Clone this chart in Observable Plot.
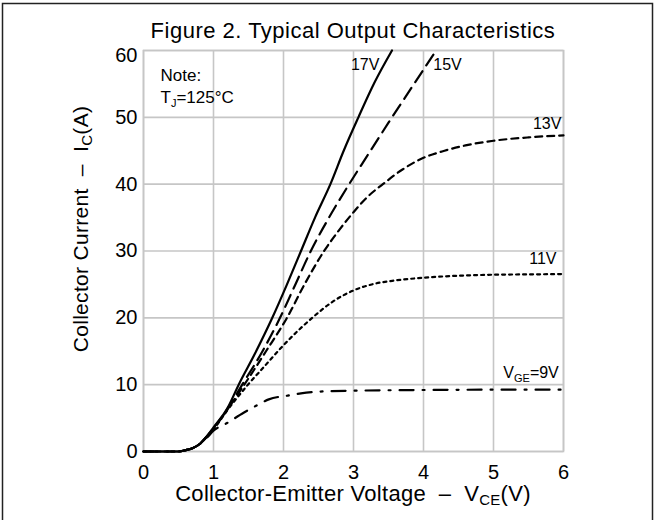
<!DOCTYPE html>
<html>
<head>
<meta charset="utf-8">
<script src="https://cdn.jsdelivr.net/npm/d3@7"></script>
<script src="https://cdn.jsdelivr.net/npm/@observablehq/plot@0.6"></script>
<style>
  html, body { margin: 0; padding: 0; background: #fff; }
  #chart { position: relative; width: 656px; height: 520px; overflow: hidden; }
</style>
</head>
<body>
<div id="chart"></div>
<script>
// ---- data ----
const xTicks = [0, 1, 2, 3, 4, 5, 6];
const yTicks = [0, 10, 20, 30, 40, 50, 60];

const v17 = [0, 0.5, 0.6, 0.7, 0.8, 0.9, 1.0, 1.2, 1.36, 1.6, 1.84, 2.05, 2.25, 2.45, 2.67, 2.86, 3.07, 3.3, 3.55];
const i17 = [0, 0, 0.2, 0.5, 1.1, 2.2, 3.6, 6.5, 10, 14.8, 20, 25, 30, 35, 40, 45, 50, 55.2, 60];

const v15 = [0, 0.5, 0.6, 0.7, 0.8, 0.9, 1.0, 1.2, 1.41, 1.7, 1.95, 2.17, 2.39, 2.65, 2.92, 3.2, 3.5, 3.84, 4.18];
const i15 = [0, 0, 0.2, 0.5, 1.1, 2.2, 3.5, 6.4, 10, 15, 20, 25, 30, 35, 39.7, 44.3, 49.2, 54.6, 60];

const v13 = [0, 0.5, 0.6, 0.7, 0.8, 0.9, 1.0, 1.2, 1.44, 1.75, 2.05, 2.3, 2.58, 2.8, 3.0, 3.2, 3.42, 3.7, 3.97, 4.3, 4.6, 5.0, 5.5, 6.0];
const i13 = [0, 0, 0.2, 0.5, 1.1, 2.2, 3.4, 6.3, 10, 15, 20, 25, 30, 33.2, 35.8, 38.1, 40, 42.2, 43.8, 45, 45.8, 46.5, 47.0, 47.3];

const v11 = [0, 0.5, 0.6, 0.7, 0.8, 0.9, 1.0, 1.2, 1.46, 1.75, 2.0, 2.2, 2.41, 2.7, 3.0, 3.3, 3.6, 4.0, 4.5, 5.0, 5.5, 6.0];
const i11 = [0, 0, 0.2, 0.5, 1.1, 2.1, 3.3, 6.2, 9.6, 13.0, 15.9, 18.0, 20, 22.4, 24.1, 25.1, 25.6, 26.0, 26.3, 26.45, 26.5, 26.55];

const v9 = [0, 0.5, 0.6, 0.7, 0.8, 0.9, 1.0, 1.2, 1.43, 1.6, 1.79, 2.08, 2.25, 2.5, 3.0, 4.0, 5.0, 6.0];
const i9 = [0, 0, 0.2, 0.5, 1.1, 2.0, 3.1, 4.3, 5.8, 6.8, 7.8, 8.4, 8.7, 8.95, 9.1, 9.2, 9.25, 9.25];

const seriesNames = ["17V", "15V", "13V", "11V", "9V"];
const seriesDash = ["none", "13,7", "7,5", "3,4", "14,9,2,9"];

// curve labels
const labelText = ["17V", "15V", "13V", "11V"];
const labelV = [3.37, 4.14, 5.97, 5.9];
const labelI = [57.1, 57.1, 48.2, 28.1];
const labelAnchor = ["end", "start", "end", "end"];

const titleText = "Figure 2. Typical Output Characteristics";
const xLabelMain = "Collector-Emitter Voltage  \u2013  V";
const xLabelSub = "CE";
const xLabelTail = "(V)";
const yLabelMain = "Collector Current  \u2013  I";
const yLabelSub = "C";
const yLabelTail = "(A)";

// ---- build rows ----
const sets = [[v17, i17], [v15, i15], [v13, i13], [v11, i11], [v9, i9]];
const rows = [];
sets.forEach(([vs, is], k) => vs.forEach((v, j) => rows.push({s: seriesNames[k], v, i: is[j]})));
const labels = labelText.map((t, k) => ({t, v: labelV[k], i: labelI[k], a: labelAnchor[k]}));

const FONT = "'Liberation Sans', Arial, Helvetica, sans-serif";
const GRID = "#c6c6c6";

const lineMarks = seriesNames.map((name, k) =>
  Plot.line(rows.filter(d => d.s === name), {
    x: "v", y: "i", curve: "monotone-x",
    stroke: "#000", strokeWidth: 2.2,
    strokeDasharray: seriesDash[k] === "none" ? null : seriesDash[k]
  })
);

const labelMarks = ["start", "end"].map(a =>
  Plot.text(labels.filter(d => d.a === a), {
    x: "v", y: "i", text: "t", textAnchor: a, fontSize: 16, dy: -5, fill: "#000"
  })
);

const chart = Plot.plot({
  width: 656,
  height: 520,
  marginLeft: 143,
  marginRight: 93,
  marginTop: 50,
  marginBottom: 69,
  style: {fontFamily: FONT, fontSize: "18px", color: "#000", background: "#fff", overflow: "visible"},
  x: {domain: [0, 6]},
  y: {domain: [0, 60]},
  marks: [
    Plot.gridX(xTicks, {stroke: GRID, strokeOpacity: 1, strokeWidth: 1.6}),
    Plot.gridY(yTicks, {stroke: GRID, strokeOpacity: 1, strokeWidth: 1.6}),
    Plot.frame({stroke: GRID, strokeWidth: 1.6}),
    Plot.axisX(xTicks, {tickSize: 0, tickPadding: 13, label: null, fontSize: 20}),
    Plot.axisY(yTicks.slice(0, 6), {tickSize: 0, tickPadding: 6, label: null, fontSize: 20}),
    Plot.axisY(yTicks.slice(6), {tickSize: 0, tickPadding: 6, label: null, fontSize: 20, dy: 5}),
    ...lineMarks,
    ...labelMarks
  ]
});

document.getElementById("chart").appendChild(chart);

// ---- extra text / border via d3 using the plot's scales ----
const svg = d3.select(chart);
const sx = chart.scale("x"), sy = chart.scale("y");
const xMid = (sx.apply(0) + sx.apply(6)) / 2;

// outer border
svg.append("rect").attr("x", 2.5).attr("y", 3.5).attr("width", 650).attr("height", 530)
  .attr("fill", "none").attr("stroke", "#222").attr("stroke-width", 1.5);

// title
svg.append("text").attr("x", xMid).attr("y", 38).attr("text-anchor", "middle")
  .attr("font-family", FONT).attr("font-size", 22).attr("letter-spacing", 0.5).text(titleText);

// x label
const xl = svg.append("text").attr("x", xMid).attr("y", 501).attr("text-anchor", "middle")
  .attr("font-family", FONT).attr("font-size", 22).attr("letter-spacing", 0.3);
xl.append("tspan").text(xLabelMain);
xl.append("tspan").attr("font-size", 15).attr("dy", 4).text(xLabelSub);
xl.append("tspan").attr("dy", -4).text(xLabelTail);

// y label
const yl = svg.append("text").attr("transform", `translate(88,229) rotate(-90)`).attr("text-anchor", "middle")
  .attr("font-family", FONT).attr("font-size", 21).attr("letter-spacing", 0.3);
yl.append("tspan").text(yLabelMain);
yl.append("tspan").attr("font-size", 15).attr("dy", 4).text(yLabelSub);
yl.append("tspan").attr("dy", -4).text(yLabelTail);

// note
const nx = sx.apply(0.25);
svg.append("text").attr("x", nx).attr("y", sy.apply(55.3)).attr("text-anchor", "start")
  .attr("font-family", FONT).attr("font-size", 17).text("Note:");
const tj = svg.append("text").attr("x", nx).attr("y", sy.apply(52.0)).attr("text-anchor", "start")
  .attr("font-family", FONT).attr("font-size", 17);
tj.append("tspan").text("T");
tj.append("tspan").attr("font-size", 11).attr("dy", 4).text("J");
tj.append("tspan").attr("dy", -4).text("=125\u00B0C");

// VGE=9V label
const vg = svg.append("text").attr("x", sx.apply(5.94)).attr("y", sy.apply(10.9)).attr("text-anchor", "end")
  .attr("font-family", FONT).attr("font-size", 16);
vg.append("tspan").text("V");
vg.append("tspan").attr("font-size", 11).attr("dy", 4).text("GE");
vg.append("tspan").attr("dy", -4).text("=9V");
</script>
</body>
</html>
